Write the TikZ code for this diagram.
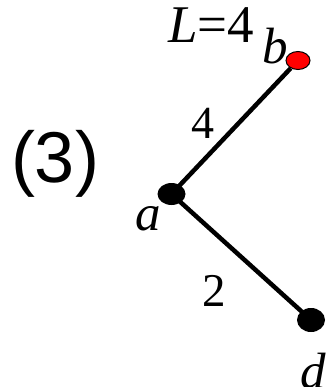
\documentclass[tikz,border=0pt]{standalone}
\usepackage{fontspec}
\setmainfont{Liberation Serif}
\newfontfamily\arialf{Liberation Sans}
\usetikzlibrary{shapes.geometric}
\begin{document}
\begin{tikzpicture}[x=1pt,y=-1pt,
  edge/.style={line width=4.5pt},
  blackdot/.style={ellipse, fill=black, inner sep=0pt, minimum width=28pt, minimum height=22pt},
  reddot/.style={ellipse, fill=red, draw=black, line width=1pt, inner sep=0pt, minimum width=24pt, minimum height=18pt},
  lbl/.style={font=\fontsize{51}{51}\selectfont, inner sep=0pt}]
\useasboundingbox (0,0) rectangle (326,387);
\clip (0,0) rectangle (326,387);
\node[blackdot] (a) at (171.5,194) {};
\node[blackdot, minimum width=28pt, minimum height=24pt] (d) at (311,320) {};
\node[reddot] (b) at (298,60.5) {};
\draw[edge] (a.center) -- (b);
\draw[edge] (a.center) -- (d.center);
\node[lbl, font=\fontsize{53}{53}\selectfont] (L) at (211,25) {\textit{L}=4};
\node[lbl] (lb) at (275,46) {\textit{b}};
\node[lbl] (la) at (148.5,218.5) {\textit{a}};
\node[lbl] (ld) at (313,371) {\textit{d}};
\node[lbl, font=\fontsize{46}{46}\selectfont] (w4) at (203,123) {4};
\node[lbl, font=\fontsize{47}{47}\selectfont] (w2) at (214.5,291) {2};
\node[font=\arialf\fontsize{72}{72}\selectfont, inner sep=0pt] (n3) at (55,164) {(3)};
\end{tikzpicture}
\end{document}
